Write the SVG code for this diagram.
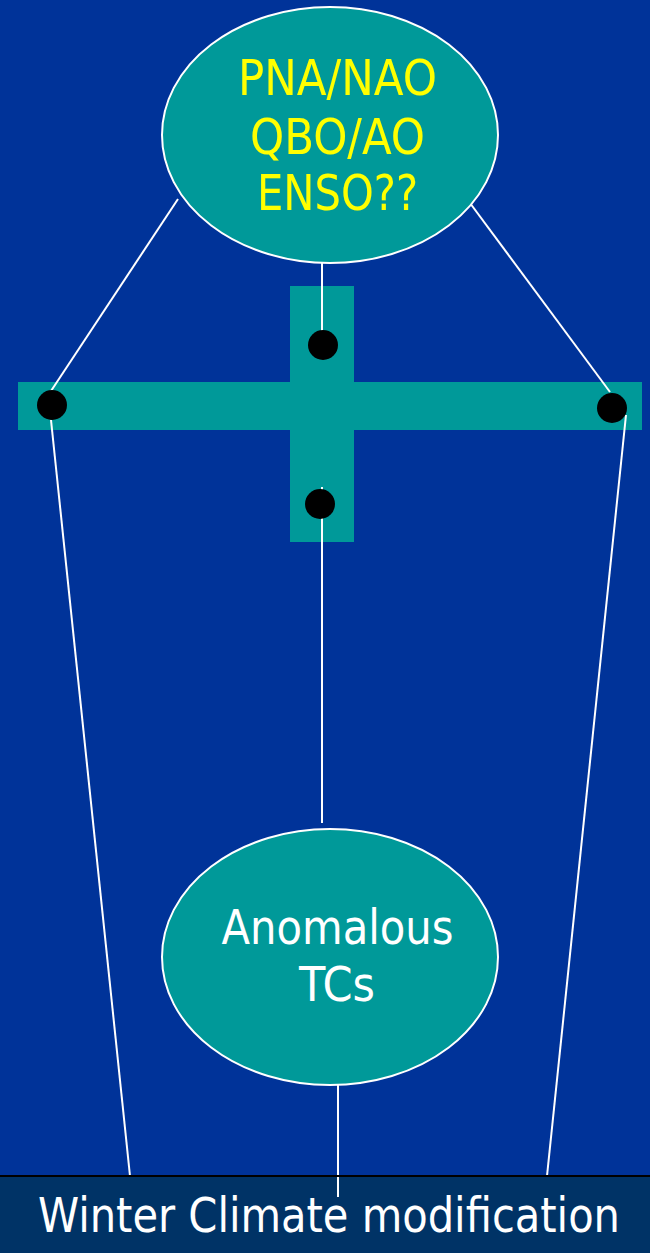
<svg xmlns="http://www.w3.org/2000/svg" width="650" height="1253" viewBox="0 0 650 1253">
<style>
.node{fill:#009999;stroke:#ffffff;stroke-width:2}
.bar{fill:#009999}
.dot{fill:#000000}
.conn{stroke:#ffffff;stroke-width:2;fill:none}
.t{font-family:"DejaVu Sans Condensed","DejaVu Sans",sans-serif;text-anchor:middle}
.y{fill:#ffff00;font-size:50px}
.w{fill:#ffffff;font-size:48px}
</style>
<rect width="650" height="1253" fill="#003399"/>
<g id="cross">
<rect class="bar" x="290" y="286" width="64" height="256"/>
<rect class="bar" x="18" y="382" width="624" height="48"/>
</g>
<g id="connectors">
<line class="conn" x1="322" y1="263" x2="322" y2="332"/>
<line class="conn" x1="178" y1="199" x2="51" y2="391"/>
<line class="conn" x1="467" y1="199" x2="610" y2="392"/>
<line class="conn" x1="322" y1="487" x2="322" y2="492"/>
<line class="conn" x1="322" y1="518" x2="322" y2="823"/>
<line class="conn" x1="51" y1="420" x2="130" y2="1176"/>
<line class="conn" x1="626" y1="415" x2="547" y2="1176"/>
<line class="conn" x1="338" y1="1085" x2="338" y2="1197"/>
</g>
<g id="dots">
<circle class="dot" cx="323" cy="345" r="15"/>
<circle class="dot" cx="52" cy="405" r="15"/>
<circle class="dot" cx="612" cy="408" r="15"/>
<circle class="dot" cx="320" cy="504" r="15"/>
</g>
<g id="node-top">
<ellipse class="node" cx="330" cy="135" rx="168" ry="128"/>
<text class="t y" x="337.5" y="95" textLength="199" lengthAdjust="spacingAndGlyphs">PNA/NAO</text>
<text class="t y" x="337.5" y="154" textLength="175" lengthAdjust="spacingAndGlyphs">QBO/AO</text>
<text class="t y" x="337.5" y="210" textLength="161" lengthAdjust="spacingAndGlyphs">ENSO??</text>
</g>
<g id="node-tcs">
<ellipse class="node" cx="330" cy="957" rx="168" ry="128"/>
<text class="t w" x="337.5" y="944" textLength="232" lengthAdjust="spacingAndGlyphs">Anomalous</text>
<text class="t w" x="337" y="1001" textLength="76" lengthAdjust="spacingAndGlyphs">TCs</text>
</g>
<g id="node-bottom">
<rect x="0" y="1175" width="650" height="78" fill="#003366"/>
<line x1="0" y1="1176" x2="650" y2="1176" stroke="#000000" stroke-width="2"/>
<line class="conn" x1="338" y1="1177" x2="338" y2="1197"/>
<text class="t w" x="329" y="1232" font-size="47" textLength="582" lengthAdjust="spacingAndGlyphs">Winter Climate modification</text>
</g>
</svg>
